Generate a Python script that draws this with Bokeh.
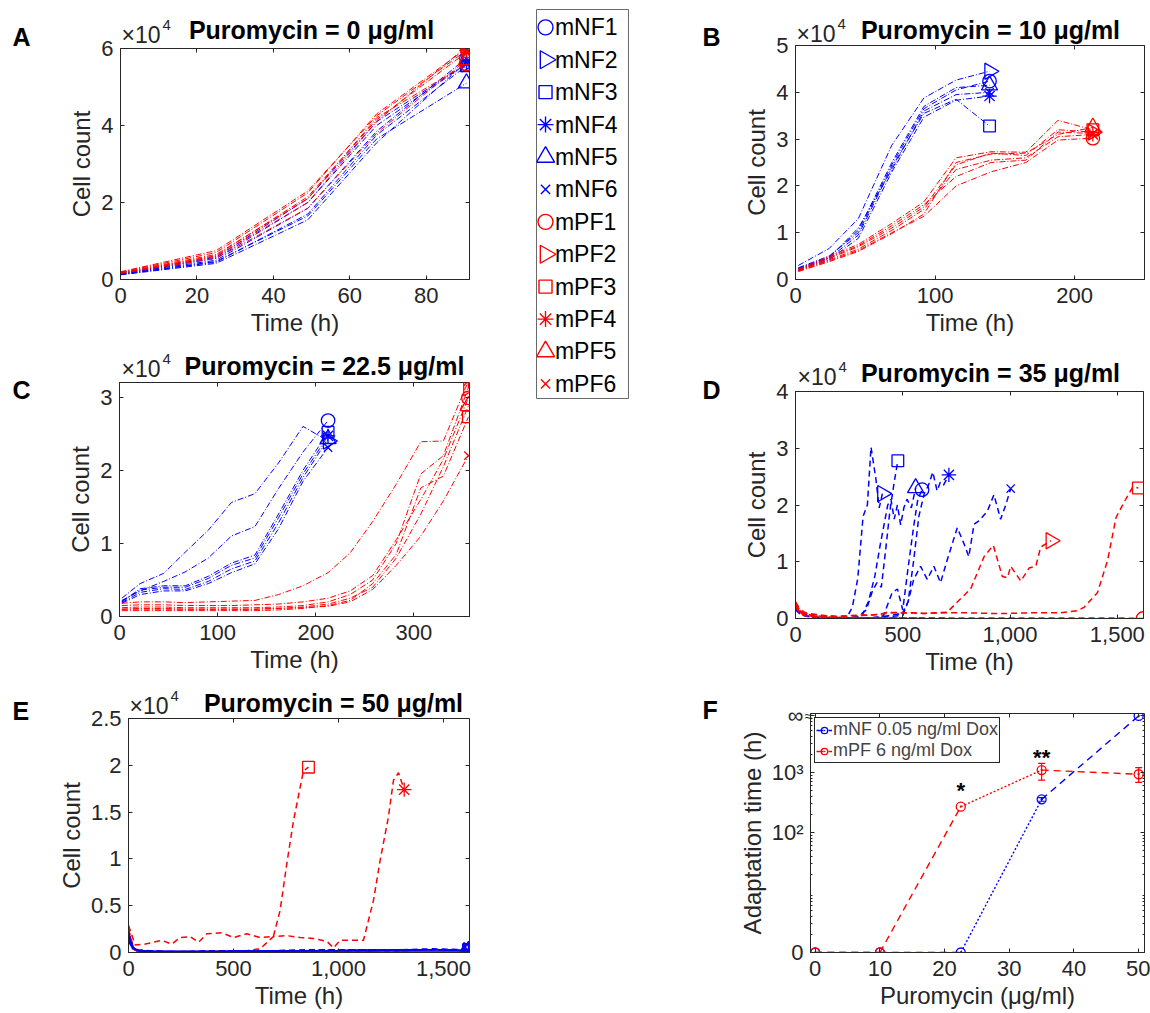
import numpy as np
from bokeh.plotting import figure
from bokeh.layouts import row, column
from bokeh.models import (Range1d, FixedTicker, LinearAxis, Legend, LegendItem,
                          ColumnDataSource, Whisker, TeeHead, GridBox)
from bokeh.core.properties import value
from bokeh.embed import file_html
from bokeh.resources import INLINE

FONT = "Liberation Sans"
INK = "#262626"
BLUE = "#0000ff"
RED = "#ff0000"

NF_NAMES = ["mNF1", "mNF2", "mNF3", "mNF4", "mNF5", "mNF6"]
PF_NAMES = ["mPF1", "mPF2", "mPF3", "mPF4", "mPF5", "mPF6"]

# ---------------- Panel A: Puromycin = 0 ----------------
A_time = [0, 25, 49, 67, 90.5]
A_mNF = [
    [0.15, 0.50, 1.85, 3.85, 5.75],
    [0.14, 0.55, 2.00, 4.00, 5.60],
    [0.13, 0.45, 1.70, 3.75, 5.55],
    [0.12, 0.42, 1.55, 3.55, 5.65],
    [0.13, 0.47, 1.65, 3.65, 5.10],
    [0.16, 0.58, 2.10, 4.10, 5.60],
]
A_mPF = [
    [0.18, 0.65, 2.10, 4.20, 5.60],
    [0.19, 0.70, 2.25, 4.30, 6.00],
    [0.17, 0.60, 2.00, 4.10, 6.05],
    [0.20, 0.75, 2.30, 4.25, 5.95],
    [0.16, 0.55, 1.85, 3.80, 5.70],
    [0.17, 0.62, 2.15, 4.15, 5.90],
]

# ---------------- Panel B: Puromycin = 10 ----------------
B_time_NF = [2, 24, 45, 69, 92, 115, 139]
B_mNF = [
    [0.25, 0.50, 1.00, 2.45, 3.65, 4.05, 4.24],
    [0.30, 0.66, 1.30, 2.87, 3.88, 4.26, 4.45],
    [0.22, 0.45, 0.95, 2.40, 3.55, 3.85, 3.28],
    [0.20, 0.42, 0.88, 2.30, 3.47, 3.83, 3.92],
    [0.24, 0.48, 1.05, 2.50, 3.70, 4.10, 4.15],
    [0.23, 0.46, 1.10, 2.35, 3.60, 3.95, 4.00],
]
B_time_PF = [2, 24, 45, 69, 92, 115, 140, 165, 188, 213]
B_mPF = [
    [0.18, 0.40, 0.62, 1.00, 1.35, 2.00, 2.30, 2.50, 2.98, 3.02],
    [0.20, 0.45, 0.70, 1.10, 1.55, 2.45, 2.70, 2.65, 3.20, 3.15],
    [0.22, 0.50, 0.75, 1.20, 1.66, 2.60, 2.73, 2.72, 3.40, 3.20],
    [0.19, 0.42, 0.65, 1.05, 1.50, 2.35, 2.55, 2.60, 3.05, 3.10],
    [0.17, 0.38, 0.60, 0.98, 1.40, 2.50, 2.68, 2.70, 3.10, 3.25],
    [0.20, 0.47, 0.72, 1.15, 1.60, 2.20, 2.50, 2.55, 3.15, 3.12],
]

# ---------------- Panel C: Puromycin = 22.5 ----------------
C_time_NF = [2.4, 21, 45, 67, 90.5, 114, 138, 162, 187, 212.5]
C_mNF = [
    [0.22, 0.35, 0.48, 0.61, 0.80, 1.10, 1.23, 1.75, 2.25, 2.68],
    [0.25, 0.45, 0.59, 0.88, 1.18, 1.56, 1.68, 2.10, 2.60, 2.40],
    [0.20, 0.38, 0.42, 0.42, 0.55, 0.73, 0.84, 1.40, 2.00, 2.52],
    [0.21, 0.36, 0.40, 0.40, 0.52, 0.70, 0.80, 1.35, 1.95, 2.47],
    [0.19, 0.33, 0.38, 0.37, 0.48, 0.65, 0.76, 1.28, 1.90, 2.43],
    [0.18, 0.30, 0.35, 0.35, 0.45, 0.60, 0.72, 1.20, 1.85, 2.31],
]
C_time_PF = [2.4, 21, 45, 67, 90.5, 114, 138, 162, 187, 212.5, 235, 258, 282, 307, 330, 355.5]
C_mPF = [
    [0.15, 0.16, 0.16, 0.15, 0.15, 0.15, 0.16, 0.17, 0.20, 0.25, 0.35, 0.56, 1.05, 1.60, 2.15, 2.99],
    [0.12, 0.13, 0.13, 0.12, 0.12, 0.12, 0.12, 0.13, 0.15, 0.20, 0.30, 0.50, 1.00, 1.95, 2.20, 3.13],
    [0.08, 0.08, 0.08, 0.08, 0.08, 0.08, 0.08, 0.09, 0.11, 0.15, 0.22, 0.45, 0.85, 1.76, 1.92, 2.73],
    [0.18, 0.20, 0.20, 0.19, 0.20, 0.21, 0.22, 0.30, 0.42, 0.60, 0.87, 1.30, 1.81, 2.39, 2.40, 3.22],
    [0.10, 0.10, 0.10, 0.10, 0.10, 0.10, 0.10, 0.11, 0.13, 0.17, 0.25, 0.40, 0.80, 1.40, 2.05, 2.88],
    [0.10, 0.11, 0.11, 0.10, 0.10, 0.10, 0.10, 0.11, 0.12, 0.14, 0.20, 0.37, 0.70, 1.10, 1.58, 2.20],
]

# ---------------- Panel D: Puromycin = 35 ----------------
D_mNF_t = [
    [0, 24, 48, 96, 144, 192, 240, 288, 336, 384, 410, 450, 475, 500, 525, 550, 570, 590],
    [0, 24, 48, 96, 144, 192, 240, 265, 290, 315, 335, 352, 375, 390, 405],
    [0, 24, 48, 96, 144, 192, 240, 290, 330, 360, 380, 400, 420, 440, 460, 477],
    [0, 24, 48, 96, 144, 192, 240, 288, 336, 384, 432, 480, 500, 525, 550, 575, 600, 620, 640, 660, 675, 690, 715],
    [0, 24, 48, 96, 144, 192, 240, 288, 310, 340, 370, 395, 415, 430, 445, 460, 475, 490, 505, 520, 540, 560],
    [0, 24, 48, 96, 144, 192, 240, 288, 336, 384, 432, 480, 500, 525, 551, 583, 614, 645, 676, 707, 754,
     785, 808, 832, 855, 894, 925, 956, 980, 1003],
]
D_mNF_v = [
    [0.22, 0.10, 0.06, 0.03, 0.02, 0.01, 0.01, 0.01, 0.01, 0.02, 0.05, 0.45, 0.52, 0.15, 0.90, 1.60, 2.10, 2.27],
    [0.25, 0.12, 0.07, 0.03, 0.02, 0.01, 0.02, 0.20, 0.70, 1.80, 2.00, 3.02, 2.45, 1.95, 2.20],
    [0.18, 0.08, 0.05, 0.02, 0.01, 0.01, 0.01, 0.03, 0.15, 0.50, 0.63, 0.55, 1.20, 1.90, 2.40, 2.78],
    [0.15, 0.07, 0.04, 0.02, 0.01, 0.01, 0.01, 0.01, 0.01, 0.02, 0.05, 0.08, 0.05, 0.30, 1.00, 1.80, 2.20,
     2.35, 2.58, 2.25, 2.40, 2.35, 2.53],
    [0.20, 0.09, 0.05, 0.02, 0.01, 0.01, 0.01, 0.02, 0.05, 0.30, 0.75, 1.30, 1.70, 2.00, 2.10, 1.75, 2.00,
     1.65, 1.95, 2.10, 1.95, 2.30],
    [0.18, 0.08, 0.05, 0.02, 0.01, 0.01, 0.01, 0.01, 0.01, 0.02, 0.03, 0.05, 0.10, 0.30, 0.69, 0.92, 0.69,
     0.92, 0.63, 1.03, 1.60, 1.32, 1.09, 1.66, 1.72, 1.89, 2.18, 1.75, 2.00, 2.29],
]
D_mPF_t = [
    [0, 24, 48, 96, 144, 200, 300, 400, 500, 600, 700, 800, 900, 1000, 1100, 1200, 1300, 1400, 1500, 1620],
    [0, 24, 48, 96, 144, 200, 250, 300, 350, 400, 450, 500, 550, 600, 650, 707, 754, 816, 879, 922, 964,
     988, 1003, 1050, 1089, 1120, 1143, 1190],
    [0, 24, 48, 96, 144, 200, 250, 300, 350, 400, 427, 500, 600, 700, 800, 900, 988, 1100, 1237, 1315,
     1346, 1408, 1455, 1494, 1533, 1572, 1598],
    [0, 24, 48, 96, 144, 200, 300, 400, 500, 600, 700],
    [0, 24, 48, 96, 144, 200, 300, 400, 500, 600],
    [0, 24, 48, 96, 144, 200, 300, 400, 500],
]
D_mPF_v = [
    [0.30, 0.12, 0.08, 0.05, 0.03, 0.02, 0.01, 0.01, 0.01, 0.01, 0.01, 0.01, 0.01, 0.01, 0.01, 0.01, 0.01,
     0.01, 0.01, 0.00],
    [0.28, 0.15, 0.10, 0.07, 0.05, 0.04, 0.05, 0.06, 0.06, 0.08, 0.10, 0.10, 0.10, 0.09, 0.10, 0.11, 0.29,
     0.52, 1.09, 1.29, 0.74, 0.72, 0.92, 0.66, 0.89, 0.92, 1.26, 1.37],
    [0.25, 0.13, 0.09, 0.06, 0.04, 0.03, 0.04, 0.05, 0.06, 0.08, 0.11, 0.10, 0.09, 0.10, 0.10, 0.09, 0.09,
     0.10, 0.10, 0.14, 0.20, 0.46, 1.03, 1.78, 2.06, 2.32, 2.30],
    [0.27, 0.10, 0.06, 0.03, 0.02, 0.01, 0.01, 0.01, 0.01, 0.01, 0.01],
    [0.22, 0.09, 0.05, 0.03, 0.02, 0.01, 0.01, 0.01, 0.01, 0.01],
    [0.20, 0.08, 0.05, 0.02, 0.01, 0.01, 0.01, 0.01, 0.01],
]
D_end_marker_NF = [True, True, True, True, True, True]
D_end_marker_PF = [True, True, True, False, False, False]

# ---------------- Panel E: Puromycin = 50 ----------------
E_flat_t = [0, 20, 45, 100, 250, 400, 550, 700, 850, 1000, 1150, 1300, 1450, 1619]
E_mNF_v = [
    [0.20, 0.06, 0.02, 0.01, 0.01, 0.01, 0.02, 0.02, 0.02, 0.03, 0.03, 0.03, 0.03, 0.02],
    [0.18, 0.05, 0.02, 0.01, 0.01, 0.02, 0.02, 0.02, 0.03, 0.03, 0.02, 0.03, 0.03, 0.02],
    [0.15, 0.05, 0.02, 0.01, 0.01, 0.01, 0.01, 0.02, 0.02, 0.02, 0.03, 0.03, 0.04, 0.03],
    [0.22, 0.07, 0.03, 0.02, 0.01, 0.01, 0.02, 0.02, 0.02, 0.02, 0.02, 0.03, 0.03, 0.02],
    [0.12, 0.04, 0.02, 0.01, 0.01, 0.01, 0.01, 0.01, 0.02, 0.02, 0.02, 0.02, 0.03, 0.02],
    [0.16, 0.05, 0.02, 0.01, 0.01, 0.01, 0.02, 0.01, 0.02, 0.02, 0.03, 0.02, 0.03, 0.02],
]
E_mPF_t = [
    E_flat_t,
    E_flat_t,
    [0, 32, 80, 119, 159, 206, 246, 294, 334, 373, 445, 500, 563, 627, 690, 722, 754, 786, 833, 857],
    [0, 24, 48, 100, 200, 300, 400, 500, 563, 627, 690, 754, 817, 881, 944, 976, 1008, 1071, 1119, 1167,
     1198, 1238, 1262, 1286, 1313],
    E_flat_t,
    E_flat_t,
]
E_mPF_v = [
    [0.28, 0.04, 0.01, 0.00, 0.00, 0.00, 0.01, 0.01, 0.01, 0.01, 0.01, 0.01, 0.01, 0.01],
    [0.25, 0.05, 0.02, 0.01, 0.00, 0.00, 0.00, 0.01, 0.01, 0.01, 0.00, 0.01, 0.01, 0.01],
    [0.29, 0.08, 0.09, 0.11, 0.13, 0.09, 0.16, 0.17, 0.11, 0.20, 0.21, 0.16, 0.20, 0.16, 0.17, 0.45, 0.95,
     1.41, 1.94, 1.98],
    [0.25, 0.05, 0.02, 0.01, 0.01, 0.01, 0.01, 0.01, 0.02, 0.04, 0.17, 0.18, 0.16, 0.15, 0.12, 0.05, 0.13,
     0.13, 0.13, 0.56, 0.98, 1.45, 1.84, 1.92, 1.74],
    [0.22, 0.04, 0.01, 0.00, 0.00, 0.01, 0.01, 0.01, 0.00, 0.01, 0.01, 0.01, 0.01, 0.01],
    [0.20, 0.03, 0.01, 0.00, 0.00, 0.00, 0.01, 0.01, 0.01, 0.00, 0.01, 0.01, 0.01, 0.01],
]

# ---------------- Panel F: adaptation time ----------------
F_puro = [0, 10, 22.5, 35, 50]
F_mNF_hours = [0, 0, 0, 355, np.inf]
F_mNF_lo = [0, 0, 0, 330, np.inf]
F_mNF_hi = [0, 0, 0, 380, np.inf]
F_mPF_hours = [0, 0, 268, 1090, 930]
F_mPF_lo = [0, 0, 268, 740, 680]
F_mPF_hi = [0, 0, 268, 1410, 1200]
F_segment_dash = ["dashed", "dashed", "dotted", "dashed"]
F_sig_x = [22.5, 35]
F_sig_text = ["*", "**"]
F_sig_anchor_hours = [500, 1770]
F_legend = ["mNF 0.05 ng/ml Dox", "mPF 6 ng/ml Dox"]
F_INF_POS = 3.94

TITLES = ["Puromycin = 0 μg/ml", "Puromycin = 10 μg/ml", "Puromycin = 22.5 μg/ml",
          "Puromycin = 35 μg/ml", "Puromycin = 50 μg/ml"]
LETTERS = ["A", "B", "C", "D", "E", "F"]

# marker shapes for replicate 1..6: (marker, angle, size)
MARKERS = [("circle", 0.0, 15), ("triangle", -np.pi / 2, 18), ("square", 0.0, 13),
           ("asterisk", 0.0, 16), ("triangle", 0.0, 18), ("x", 0.0, 13)]

# ---------------- layout (page pixels; page has no margin) ----------------
PAGE_W = 1150
COL_X = [0, 700]
COL_W = [500, 450]
ROW_Y = [0, 342, 677]
ROW_H = [342, 335, 335]
FRAMES = {
    "A": (120, 469, 48, 279),
    "B": (795, 1144, 45, 279),
    "C": (119, 469, 382, 616),
    "D": (795, 1143, 391, 623),
    "E": (128, 469, 718, 952),
    "F": (810, 1144, 713, 952),
}
# text placements (page px), vertical = centre of the capital letters
LETTER_POS = {"A": (12, 36.5), "B": (702, 36.5), "C": (12, 389), "D": (702, 389), "E": (12, 710), "F": (702, 709.5)}
TITLE_POS = {"A": (311, 29), "B": (990, 29), "C": (324, 365), "D": (990, 372.5), "E": (333, 702.5)}
EXP_POS = {"A": (121, 34), "B": (796, 33), "C": (121, 368), "D": (797, 376.5), "E": (129, 705)}


def no_align(p):
    try:
        p.frame_align = False
    except Exception:
        pass


def style_axis(ax, ticks, labels, minor=None, standoff=6):
    ax.ticker = FixedTicker(ticks=ticks, minor_ticks=minor or [])
    ax.major_label_overrides = {t: l for t, l in zip(ticks, labels)}
    ax.major_label_text_font = FONT
    ax.major_label_text_font_size = "22px"
    ax.major_label_text_color = INK
    ax.major_label_standoff = standoff
    ax.major_tick_in = 4
    ax.major_tick_out = 0
    ax.major_tick_line_color = INK
    ax.minor_tick_in = 2 if minor else 0
    ax.minor_tick_out = 0
    ax.minor_tick_line_color = INK if minor else None
    ax.axis_line_color = INK
    ax.axis_label_text_font = FONT
    ax.axis_label_text_font_size = "24px"
    ax.axis_label_text_font_style = "normal"
    ax.axis_label_text_color = INK
    ax.axis_label_standoff = 3


def make_panel(key, col, rw, xr, yr, xt, xl, yt, yl, xlabel, ylabel, yminor=None):
    L, R, T, B = FRAMES[key]
    cx, cw = COL_X[col], COL_W[col]
    ry, rh = ROW_Y[rw], ROW_H[rw]
    p = figure(width=cw, height=rh, x_range=Range1d(*xr), y_range=Range1d(*yr),
               output_backend="svg", toolbar_location=None,
               min_border_left=L - cx, min_border_right=cx + cw - R,
               min_border_top=T - ry, min_border_bottom=ry + rh - B)
    no_align(p)
    p.title.visible = False
    p.xgrid.visible = False
    p.ygrid.visible = False
    p.outline_line_color = INK
    p.outline_line_width = 1
    p.outline_line_alpha = 1
    p.background_fill_color = "white"
    p.border_fill_color = "white"
    style_axis(p.xaxis[0], xt, xl, standoff=8)
    style_axis(p.yaxis[0], yt, yl, yminor, standoff=7)
    p.xaxis[0].axis_label = xlabel
    p.yaxis[0].axis_label = ylabel
    for loc, ticks, minor in (("right", yt, yminor), ("above", xt, None)):
        ax = LinearAxis(ticker=FixedTicker(ticks=ticks, minor_ticks=minor or []),
                        major_label_text_font_size="1px", major_label_text_color=None,
                        major_label_standoff=0,
                        major_tick_in=4, major_tick_out=0, axis_line_color=None,
                        major_tick_line_color=INK,
                        minor_tick_in=2 if minor else 0, minor_tick_out=0,
                        minor_tick_line_color=INK if minor else None)
        p.add_layout(ax, loc)
    return p


def draw_series(p, times, values, color, dash, width, show=None):
    for i, (t, v) in enumerate(zip(times, values)):
        p.line(x=t, y=v, line_color=color, line_dash=dash, line_width=width)
        if show is None or show[i]:
            mk, ang, sz = MARKERS[i]
            p.scatter(x=[t[-1]], y=[v[-1]], marker=mk, angle=ang, size=sz * 0.9,
                      line_color=color, fill_color=None, line_width=1.3)


DASHDOT = "6 2 1 2"
DASHED = "6 4"

# ---- Panel A ----
pA = make_panel("A", 0, 0, (0, 91.3), (0, 6), [0, 20, 40, 60, 80], ["0", "20", "40", "60", "80"],
                [0, 2, 4, 6], ["0", "2", "4", "6"], "Time (h)", "Cell count")
draw_series(pA, [A_time] * 6, A_mNF, BLUE, DASHDOT, 1)
draw_series(pA, [A_time] * 6, A_mPF, RED, DASHDOT, 1)

# ---- Panel B ----
pB = make_panel("B", 1, 0, (0, 250), (0, 5), [0, 100, 200], ["0", "100", "200"],
                [0, 1, 2, 3, 4, 5], ["0", "1", "2", "3", "4", "5"], "Time (h)", "Cell count")
draw_series(pB, [B_time_NF] * 6, B_mNF, BLUE, DASHDOT, 1)
draw_series(pB, [B_time_PF] * 6, B_mPF, RED, DASHDOT, 1)

# ---- Panel C ----
pC = make_panel("C", 0, 1, (0, 356.6), (0, 3.2), [0, 100, 200, 300], ["0", "100", "200", "300"],
                [0, 1, 2, 3], ["0", "1", "2", "3"], "Time (h)", "Cell count")
draw_series(pC, [C_time_NF] * 6, C_mNF, BLUE, DASHDOT, 1)
draw_series(pC, [C_time_PF] * 6, C_mPF, RED, DASHDOT, 1)

# ---- Panel D ----
pD = make_panel("D", 1, 1, (0, 1622), (0, 4), [0, 500, 1000, 1500], ["0", "500", "1,000", "1,500"],
                [0, 1, 2, 3, 4], ["0", "1", "2", "3", "4"], "Time (h)", "Cell count")
draw_series(pD, D_mNF_t, D_mNF_v, BLUE, DASHED, 1.5, D_end_marker_NF)
draw_series(pD, D_mPF_t, D_mPF_v, RED, DASHED, 1.5, D_end_marker_PF)

# ---- Panel E ----
pE = make_panel("E", 0, 2, (0, 1624), (0, 2.5), [0, 500, 1000, 1500], ["0", "500", "1,000", "1,500"],
                [0, 0.5, 1, 1.5, 2, 2.5], ["0", "0.5", "1", "1.5", "2", "2.5"], "Time (h)", "Cell count")
draw_series(pE, E_mPF_t, E_mPF_v, RED, DASHED, 1.5)
draw_series(pE, [E_flat_t] * 6, E_mNF_v, BLUE, DASHED, 1.5)


# ---- Panel F ----
def ypos(h):
    if h == 0:
        return 0.0
    if np.isinf(h):
        return F_INF_POS
    return float(np.log10(h))


f_minor = [float(np.log10(k * 10 ** n)) for n in range(0, 4) for k in range(2, 10)
           if np.log10(k * 10 ** n) < F_INF_POS - 0.02]
pF = make_panel("F", 1, 2, (-0.73, 50.9), (0, 3.98), [0, 10, 20, 30, 40, 50],
                ["0", "10", "20", "30", "40", "50"], [0, 2, 3, F_INF_POS], ["0", "10²", "10³", "∞"],
                "Puromycin (μg/ml)", "Adaptation time (h)", yminor=f_minor)

legend_items = []
for hours, lo, hi, color, name in ((F_mNF_hours, F_mNF_lo, F_mNF_hi, BLUE, F_legend[0]),
                                   (F_mPF_hours, F_mPF_lo, F_mPF_hi, RED, F_legend[1])):
    ys = [ypos(h) for h in hours]
    first = None
    for i, dash in enumerate(F_segment_dash):
        r = pF.line(x=F_puro[i:i + 2], y=ys[i:i + 2], line_color=color,
                    line_dash="7 5" if dash == "dashed" else "2 2", line_width=1.4)
        if first is None:
            first = r
    elo = [ypos(v) for v in lo]
    ehi = [ypos(v) for v in hi]
    sel = [i for i in range(len(F_puro)) if ehi[i] - elo[i] > 1e-9]
    if sel:
        src = ColumnDataSource(dict(base=[F_puro[i] for i in sel], lower=[elo[i] for i in sel],
                                    upper=[ehi[i] for i in sel]))
        pF.add_layout(Whisker(source=src, base="base", lower="lower", upper="upper",
                              line_color=color, line_width=1.2,
                              upper_head=TeeHead(size=7, line_color=color, line_width=1.2),
                              lower_head=TeeHead(size=7, line_color=color, line_width=1.2)))
    m = pF.scatter(x=F_puro, y=ys, marker="circle_dot", size=9, line_color=color,
                   fill_color=None, line_width=1.3)
    legend_items.append(LegendItem(label=name, renderers=[first, m]))

pF.text(x=F_sig_x, y=[ypos(h) for h in F_sig_anchor_hours], text=F_sig_text,
        text_font=value(FONT), text_font_size="22px", text_font_style="bold",
        text_align="center", text_baseline="middle", text_color="black")

legF = Legend(items=legend_items, location="top_left", margin=4, padding=1, spacing=0,
              glyph_width=16, glyph_height=20, label_height=20, label_standoff=1,
              label_text_font=FONT, label_text_font_size="18px",
              border_line_color=INK, border_line_width=1, border_line_alpha=1,
              background_fill_color="white", background_fill_alpha=1)
pF.add_layout(legF)

# ---------------- shared legend (middle column) ----------------
LEG_L, LEG_R, LEG_T, LEG_B = 536, 628, 9, 398
leg_names = NF_NAMES + PF_NAMES
leg_colors = [BLUE] * 6 + [RED] * 6
TOTAL_H = sum(ROW_H)
pL = figure(width=200, height=TOTAL_H, x_range=Range1d(0, 1), y_range=Range1d(12, 0),
            x_axis_type=None, y_axis_type=None, output_backend="svg", toolbar_location=None,
            min_border_left=LEG_L - 500, min_border_right=700 - LEG_R,
            min_border_top=LEG_T, min_border_bottom=TOTAL_H - LEG_B)
no_align(pL)
pL.title.visible = False
pL.xgrid.visible = False
pL.ygrid.visible = False
pL.outline_line_color = "#6a6a6a"
pL.outline_line_width = 1
pL.outline_line_alpha = 1
for i, (name, color) in enumerate(zip(leg_names, leg_colors)):
    mk, ang, sz = MARKERS[i % 6]
    pL.scatter(x=[0.098], y=[i + 0.55], marker=mk, angle=ang, size=sz, line_color=color,
               fill_color=None, line_width=1.4)
pL.text(x=[0.2] * 12, y=[i + 0.55 for i in range(12)], text=leg_names, text_font=value(FONT),
        text_font_size="23px", text_baseline="middle", text_align="left", text_color="black")

# ---------------- transparent text overlay (panel letters, titles, x10^4) ----------------
pO = figure(width=PAGE_W, height=TOTAL_H, x_range=Range1d(0, PAGE_W), y_range=Range1d(TOTAL_H, 0),
            x_axis_type=None, y_axis_type=None, output_backend="svg", toolbar_location=None,
            min_border=0, min_border_left=0, min_border_right=0, min_border_top=0, min_border_bottom=0)
no_align(pO)
pO.title.visible = False
pO.xgrid.visible = False
pO.ygrid.visible = False
pO.outline_line_color = None
pO.background_fill_color = None
pO.background_fill_alpha = 0
pO.border_fill_color = None
pO.border_fill_alpha = 0

pO.text(x=[LETTER_POS[k][0] for k in LETTERS], y=[LETTER_POS[k][1] for k in LETTERS], text=LETTERS,
        text_font=value(FONT), text_font_size="25px", text_font_style="bold",
        text_baseline="middle", text_align="left", text_color="black")
tkeys = ["A", "B", "C", "D", "E"]
pO.text(x=[TITLE_POS[k][0] for k in tkeys], y=[TITLE_POS[k][1] for k in tkeys], text=TITLES,
        text_font=value(FONT), text_font_size="25px", text_font_style="bold",
        text_baseline="middle", text_align="center", text_color="black")
pO.text(x=[EXP_POS[k][0] for k in tkeys], y=[EXP_POS[k][1] for k in tkeys], text=["×10"] * 5,
        text_font=value(FONT), text_font_size="23px", text_baseline="middle",
        text_align="left", text_color=INK)
pO.text(x=[EXP_POS[k][0] + 41 for k in tkeys], y=[EXP_POS[k][1] - 10 for k in tkeys], text=["4"] * 5,
        text_font=value(FONT), text_font_size="15px", text_baseline="middle",
        text_align="left", text_color=INK)
pO.text(x=[FRAMES["F"][0] - 2], y=[FRAMES["F"][3] - F_INF_POS / 3.98 * (FRAMES["F"][3] - FRAMES["F"][2])],
        text=["≈"], text_font=value(FONT), text_font_size="14px", text_baseline="middle",
        text_align="center", text_color=INK)

left_col = column(pA, pC, pE)
right_col = column(pB, pD, pF)
main = row(left_col, pL, right_col)
layout = GridBox(children=[(main, 0, 0), (pO, 0, 0)])

open("out.html", "w").write(file_html(layout, INLINE))
